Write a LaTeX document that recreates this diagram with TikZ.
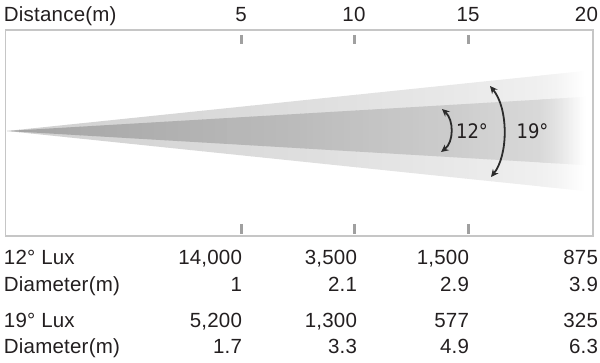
\documentclass[tikz,border=0pt]{standalone}
\usepackage{fontspec}
\setmainfont{Liberation Sans}[LetterSpace=1]
\newfontfamily\anglefont{DejaVu Sans Condensed}
\usetikzlibrary{arrows.meta}

\definecolor{framec}{HTML}{C6C6C6}
\definecolor{tickc}{HTML}{A0A0A0}
\definecolor{inkc}{HTML}{231F20}
\definecolor{arcc}{HTML}{2B2B2B}
\definecolor{oa}{HTML}{D0D0D0}
\definecolor{ob}{HTML}{DEDEDE}
\definecolor{oc}{HTML}{E8E8E8}
\definecolor{od}{HTML}{F0F0F0}
\definecolor{oe}{HTML}{F3F3F3}
\definecolor{ia}{HTML}{A4A4A4}
\definecolor{ib}{HTML}{BCBCBC}
\definecolor{ic}{HTML}{CCCCCC}
\definecolor{id}{HTML}{D9D9D9}
\definecolor{ie}{HTML}{E2E2E2}

\newcommand\beamslices[2]{%
  \foreach \xa/\xb/\ca/\cb in {#2} {
    \foreach \k in {0,...,23} {
      \pgfmathsetmacro\xl{\xa+(\xb-\xa)*\k/24}
      \pgfmathsetmacro\xr{\xa+(\xb-\xa)*(\k+1)/24+0.6}
      \pgfmathtruncatemacro\pcv{100*(\k+0.5)/24}
      \pgfmathsetmacro\hl{#1/578*(\xl-7)}
      \pgfmathsetmacro\hr{#1/578*(\xr-7)}
      \fill[\cb!\pcv!\ca] (\xl,131-\hl) -- (\xr,131-\hr) -- (\xr,131+\hr) -- (\xl,131+\hl) -- cycle;
    }
  }%
}

\tikzset{
  txt/.style={inner sep=0pt, outer sep=0pt, text=inkc, font=\fontsize{20.5}{24}\selectfont},
  lbl/.style={txt, anchor=base west},
  num/.style={txt, anchor=base east},
  hnum/.style={txt, anchor=base},
  tickmark/.style={draw=tickc, line width=3pt},
  arcarrow/.style={draw=arcc, line width=1.8pt, {Stealth[length=7.5pt,width=7pt]}-{Stealth[length=7.5pt,width=7pt]}},
  anglbl/.style={inner sep=0pt, text=inkc, font=\anglefont\fontsize{20}{24}\selectfont}
}

\begin{document}
\begin{tikzpicture}[x=1pt,y=-1pt]
\useasboundingbox (0,0) rectangle (600,363);

% beams (outer then inner), drawn as shaded slices
\coordinate (apex) at (7,131);
\beamslices{60}{7/300/oa/ob,300/450/ob/oc,450/540/oc/od,540/555/od/oe,555/585/oe/white}
\beamslices{34}{7/300/ia/ib,300/450/ib/ic,450/540/ic/id,540/555/id/ie,555/585/ie/white}

% frame
\draw[framec, line width=1.3pt] (5.5,30) rectangle (593,236);

% ticks
\foreach \x in {241,354,468} {
  \draw[tickmark] (\x,35) -- (\x,44);
  \draw[tickmark] (\x,224) -- (\x,234);
}

% header
\node[lbl] (hdist) at (4,22) {Distance(m)};
\node[hnum] (h5) at (241,22) {5};
\node[hnum] (h10) at (354,22) {10};
\node[hnum] (h15) at (468,22) {15};
\node[num] (h20) at (598,22) {20};

% table
\node[lbl] (r1) at (4,265) {12° Lux};
\node[num] (r1a) at (242,265) {14,000};
\node[num] (r1b) at (357,265) {3,500};
\node[num] (r1c) at (469,265) {1,500};
\node[num] (r1d) at (598,265) {875};

\node[lbl] (r2) at (4,292) {Diameter(m)};
\node[num] (r2a) at (242,292) {1};
\node[num] (r2b) at (357,292) {2.1};
\node[num] (r2c) at (469,292) {2.9};
\node[num] (r2d) at (598,292) {3.9};

\node[lbl] (r3) at (4,328) {19° Lux};
\node[num] (r3a) at (242,328) {5,200};
\node[num] (r3b) at (357,328) {1,300};
\node[num] (r3c) at (469,328) {577};
\node[num] (r3d) at (598,328) {325};

\node[lbl] (r4) at (4,354) {Diameter(m)};
\node[num] (r4a) at (242,354) {1.7};
\node[num] (r4b) at (357,354) {3.3};
\node[num] (r4c) at (469,354) {4.9};
\node[num] (r4d) at (598,354) {6.3};

% angle arcs
\coordinate (a12t) at (442,109);
\coordinate (a12b) at (441,152);
\draw[arcarrow] (a12t) .. controls (454,120) and (454,142) .. (a12b);
\coordinate (a19t) at (490,86);
\coordinate (a19b) at (491,177);
\draw[arcarrow] (a19t) .. controls (508.5,108) and (508.5,155) .. (a19b);

\node[anglbl] (l12) at (472,131) {12°};
\node[anglbl] (l19) at (532.5,131) {19°};
\end{tikzpicture}
\end{document}
